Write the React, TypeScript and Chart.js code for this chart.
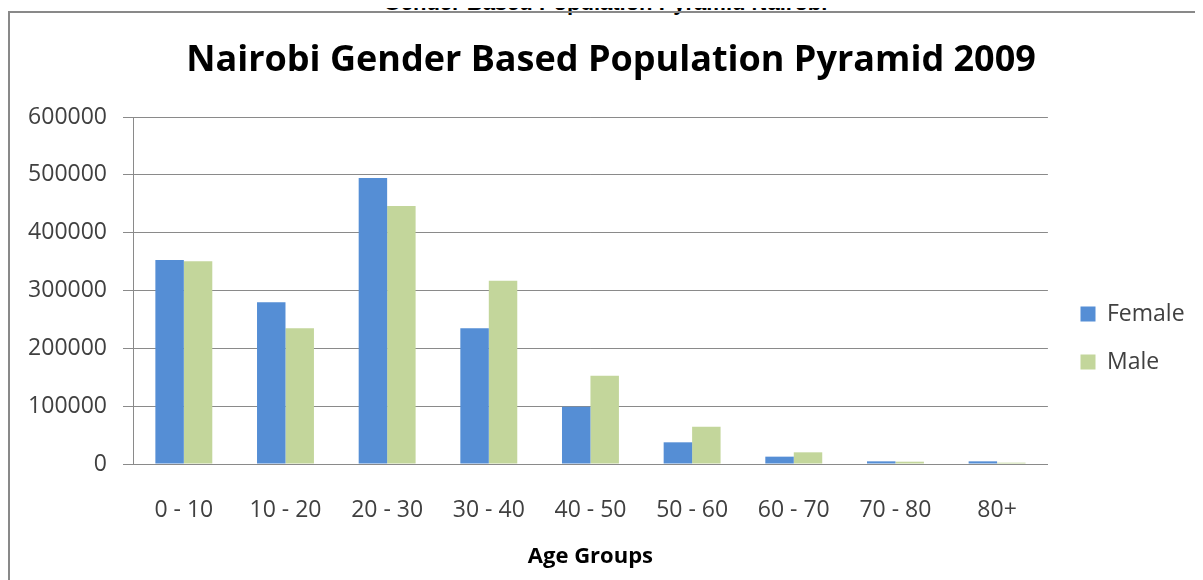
import React, { useEffect, useRef } from 'react';
import { Chart, registerables } from 'chart.js';

Chart.register(...registerables);

const categories = ['0 - 10', '10 - 20', '20 - 30', '30 - 40', '40 - 50', '50 - 60', '60 - 70', '70 - 80', '80+'];
const femaleValues = [352700, 279600, 494500, 234700, 99100, 37500, 12700, 4600, 4600];
const maleValues = [350500, 234700, 446100, 317000, 152700, 64500, 20200, 4000, 2300];
const yMin = 0;
const yMax = 600000;
const yStep = 100000;

const chartTitle = 'Nairobi Gender Based Population Pyramid 2009';
const captionText = 'Gender Based Population Pyramid Nairobi';
const xAxisTitle = 'Age Groups';

const FONT = '"Open Sans", "DejaVu Sans", sans-serif';
const GRID = '#8a8a8a';
const TEXT = '#404040';

export default function App() {
  const canvasRef = useRef<HTMLCanvasElement | null>(null);

  useEffect(() => {
    document.body.style.overflow = 'hidden';
    document.documentElement.style.overflow = 'hidden';
    const canvas = canvasRef.current;
    if (!canvas) return;

    const blockPlacer = {
      id: 'blockPlacer',
      afterLayout(chart: any) {
        const lg = chart.legend;
        if (lg) {
          const pad = 25;
          const colH = (lg.columnSizes && lg.columnSizes[0]) ? lg.columnSizes[0].height : 96;
          const y0 = (lg.top + pad + lg.bottom - colH) / 2;
          const dy = 288.5 - y0;
          lg.top += dy;
          lg.bottom += dy;
          const dx = 1070.5 - (lg.left + pad);
          lg.left += dx;
          lg.right += dx;
        }
        const tb = chart.titleBlock;
        if (tb) {
          const dxT = 601 - (tb.left + tb.right) / 2;
          tb.left += dxT;
          tb.right += dxT;
        }
      },
    };

    const chart = new Chart(canvas, {
      type: 'bar',
      data: {
        labels: categories,
        datasets: [
          {
            label: 'Female',
            data: femaleValues,
            backgroundColor: '#558ed5',
            borderWidth: 0,
            categoryPercentage: 0.56,
            barPercentage: 1.0,
          },
          {
            label: 'Male',
            data: maleValues,
            backgroundColor: '#c3d69b',
            borderWidth: 0,
            categoryPercentage: 0.56,
            barPercentage: 1.0,
          },
        ],
      },
      options: {
        responsive: false,
        animation: false,
        layout: { padding: { left: 0, right: 16, top: 0, bottom: 10 } },
        plugins: {
          title: {
            display: true,
            text: chartTitle,
            color: '#000000',
            font: { family: FONT, size: 36, weight: 'bold' },
            padding: { top: 25.4, bottom: 34.4 },
          },
          legend: {
            display: true,
            position: 'right',
            labels: {
              boxWidth: 15,
              boxHeight: 15,
              padding: 25,
              color: TEXT,
              font: { family: FONT, size: 23 },
            },
          },
          tooltip: { enabled: false },
        },
        scales: {
          x: {
            afterFit(scale: any) {
              scale.height = 106;
            },
            grid: { display: false, drawTicks: false },
            border: { display: true, color: GRID, width: 1 },
            ticks: {
              color: TEXT,
              padding: 33,
              font: { family: FONT, size: 23 },
              maxRotation: 0,
            },
            title: {
              display: true,
              text: xAxisTitle,
              color: '#000000',
              font: { family: FONT, size: 22, weight: 'bold' },
              padding: { top: 20, bottom: 0 },
            },
          },
          y: {
            min: yMin,
            max: yMax,
            afterFit(scale: any) {
              scale.width = 123;
            },
            grid: { color: GRID, lineWidth: 1, drawTicks: true, tickLength: 10 },
            border: { display: true, color: GRID, width: 1 },
            ticks: {
              stepSize: yStep,
              color: TEXT,
              padding: 16,
              font: { family: FONT, size: 23 },
              callback: (v: any) => String(v),
            },
          },
        },
      },
      plugins: [blockPlacer],
    });

    return () => {
      chart.destroy();
    };
  }, []);

  return (
    <div style={{ position: 'relative', width: 1195, height: 572 }}>
      <div
        style={{
          position: 'absolute',
          top: -16.4,
          left: 0,
          width: 1195,
          textAlign: 'center',
          fontFamily: '"Liberation Sans", Arial, sans-serif',
          fontWeight: 'bold',
          fontSize: 22,
          lineHeight: '22px',
          color: '#000',
          whiteSpace: 'nowrap',
        }}
      >
        {captionText}
      </div>
      <div
        style={{
          position: 'absolute',
          top: 3,
          left: 0,
          width: 1260,
          height: 700,
          boxSizing: 'border-box',
          borderLeft: '2px solid #898989',
          borderTop: '2px solid #898989',
        }}
      />
      <canvas
        ref={canvasRef}
        width={1193}
        height={566}
        style={{ position: 'absolute', left: 2, top: 6, width: 1193, height: 566 }}
      />
    </div>
  );
}
